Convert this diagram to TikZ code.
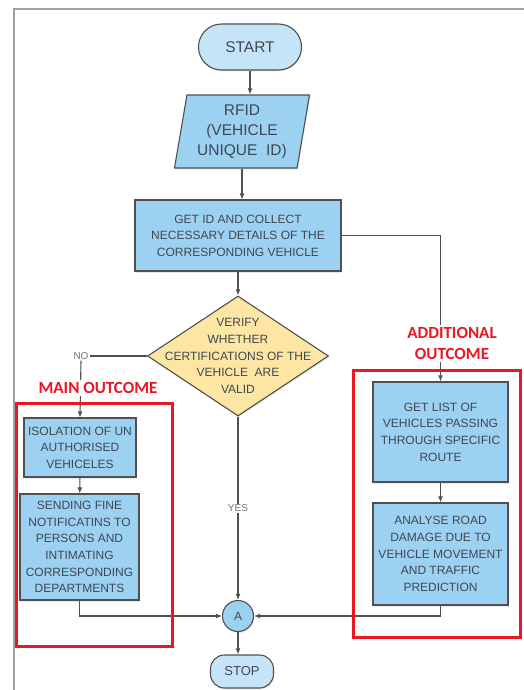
\documentclass[tikz,border=0pt]{standalone}
\usepackage{fontspec}
\setmainfont{Liberation Sans}
\newfontfamily\outfont{Carlito}
\usetikzlibrary{arrows.meta,shapes.geometric,shadows}
\definecolor{skyfill}{RGB}{156, 209, 242}
\definecolor{paleblue}{RGB}{198, 228, 247}
\definecolor{sandfill}{RGB}{253, 230, 163}
\definecolor{slate}{RGB}{80, 80, 80}
\definecolor{inkgray}{RGB}{62, 72, 82}
\definecolor{alarmred}{RGB}{232, 23, 35}
\definecolor{framegray}{RGB}{160, 160, 160}

\tikzset{
    flow/.style={draw=slate, line width=1.1pt, text=inkgray, align=center,
                 font=\fontsize{12}{16.6}\selectfont,
                 drop shadow={opacity=.18, shadow xshift=.8pt, shadow yshift=-1.5pt}},
    task/.style={flow, rectangle, fill=skyfill, inner sep=1pt},
    terminal/.style={flow, rectangle, rounded corners=#1, fill=paleblue},
    link/.style={draw=slate, line width=1.1pt, -{Latex[length=6pt, width=5pt]}},
    wire/.style={draw=slate, line width=1.1pt},
    tag/.style={text=gray!90!black, font=\fontsize{10}{12}\selectfont, inner sep=1pt},
    outcome/.style={text=alarmred, font=\outfont\bfseries\fontsize{17}{21}\selectfont,
                    fill=white, align=center, inner sep=2pt}
}

\begin{document}
\begin{tikzpicture}[x=1pt, y=-1pt]
    \useasboundingbox (0, 0) rectangle (524, 690);
    % Page frame
    \draw[framegray, line width=2pt]                 ( 14, 690) -- ( 14,   9) -- (524,   9);
    % Main column
    \node[terminal=23pt, minimum width=103pt, minimum height=46pt,
          font=\fontsize{15.5}{18}\selectfont]       (start)   at (250.0,  47.0) {START};
    \node[flow, trapezium, trapezium left angle=77, trapezium right angle=103,
          trapezium stretches body, fill=skyfill, minimum width=135pt, minimum height=73pt,
          inner sep=0pt, font=\fontsize{15.5}{20}\selectfont]
                                                     (rfid)    at (242.0, 131.5) {RFID\\(VEHICLE\\UNIQUE~~ID)};
    \node[task, minimum width=206pt, minimum height=71pt]
                                                     (getid)   at (238.0, 235.5) {GET ID AND COLLECT\\NECESSARY DETAILS OF THE\\CORRESPONDING VEHICLE};
    \node[flow, diamond, fill=sandfill, minimum width=181pt, minimum height=120pt,
          inner xsep=-40pt, inner ysep=-25pt]        (verify)  at (238.0, 356.0) {VERIFY\\WHETHER\\CERTIFICATIONS OF THE\\VEHICLE~~ARE\\VALID};
    % Main outcome
    \node[task, minimum width=112pt, minimum height=59pt]
                                                     (isolate) at ( 80.0, 447.5) {ISOLATION OF UN\\AUTHORISED\\VEHICELES};
    \node[task, minimum width=119pt, minimum height=106pt]
                                                     (fine)    at ( 79.5, 547.0) {SENDING FINE\\NOTIFICATINS TO\\PERSONS AND\\INTIMATING\\CORRESPONDING\\DEPARTMENTS};
    % Additional outcome
    \node[task, minimum width=135pt, minimum height=100pt]
                                                     (route)   at (440.5, 432.0) {GET LIST OF\\VEHICLES PASSING\\THROUGH SPECIFIC\\ROUTE};
    \node[task, minimum width=135pt, minimum height=102pt]
                                                     (damage)  at (440.5, 554.0) {ANALYSE ROAD\\DAMAGE DUE TO\\VEHICLE MOVEMENT\\AND TRAFFIC\\PREDICTION};
    % Join and end
    \node[flow, circle, fill=skyfill, minimum size=31pt, inner sep=0pt]
                                                     (join)    at (238.0, 616.0) {A};
    \node[terminal=14pt, minimum width=63pt, minimum height=33pt,
          font=\fontsize{13}{15}\selectfont]         (stop)    at (242.0, 671.5) {STOP};
    \node[tag]                                       (nolbl)   at ( 81.0, 356.0) {NO};
    % Connectors
    \draw[link] (start.south) -- (start.south |- rfid.north);
    \draw[link] (rfid.south)  -- (rfid.south |- getid.north);
    \draw[link] (getid)       -- (verify);
    \draw[link] (getid.east)  -| (route.north);
    \draw[wire] (verify.west) -- (nolbl.east);
    \draw[link] (nolbl.south) -- (isolate.north);
    \draw[link] (isolate)     -- (fine);
    \draw[link] (fine.south)  |- (join.west);
    \draw[link] (verify.south) -- (join.north)
                node[tag, midway, fill=white] {YES};
    \draw[link] (route)       -- (damage);
    \draw[link] (damage.south) |- (join.east);
    \draw[link] (join.south)  -- (join.south |- stop.north);
    % Outcome frames
    \draw[alarmred, line width=3pt]                  ( 16, 403) rectangle (172, 646);
    \draw[alarmred, line width=3pt]                  (353, 370) rectangle (520, 637);
    \node[outcome]                                   (mainlbl) at ( 98.0, 388.0) {MAIN OUTCOME};
    \node[outcome]                                   (addlbl)  at (452.0, 343.5) {ADDITIONAL\\OUTCOME};
\end{tikzpicture}
\end{document}
